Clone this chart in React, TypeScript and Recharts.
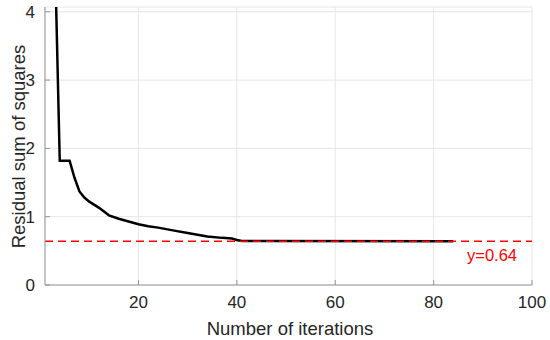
import {
  LineChart,
  Line,
  XAxis,
  YAxis,
  CartesianGrid,
  ReferenceLine,
  Label,
} from "recharts";

// residual sum of squares per iteration
const iterations = [1, 2, 3, 4, 6, 7, 8, 9, 10, 12, 14, 16, 18, 20, 22, 24, 27, 30, 34, 37, 39, 40, 41, 84];
const rss = [12, 8.5, 4.9, 1.82, 1.82, 1.57, 1.37, 1.28, 1.22, 1.13, 1.02, 0.97, 0.93, 0.89, 0.86, 0.84, 0.8, 0.76, 0.71, 0.69, 0.68, 0.66, 0.645, 0.64];

const xTicks = [20, 40, 60, 80, 100];
const yTicks = [0, 1, 2, 3, 4];
const xRange = [1, 100];
const threshold = 0.64;

const data = iterations.map((it, i) => ({ it, rss: rss[i] }));
// dashed y=0.64 line across the whole x range, drawn as a series so it sits on top
const thresholdData = xRange.map((it) => ({ it, thr: threshold }));

const FONT = '"Liberation Sans", Arial, sans-serif';
const AXIS = "#969696";
const TEXT = "#262626";
const RED = "#ff0000";

export default function App() {
  return (
    <div style={{ width: 550, height: 340, background: "#fff" }}>
      <style>{"body{margin:0}"}</style>
      <LineChart
        width={550}
        height={340}
        data={data}
        margin={{ top: 7, right: 18, bottom: 0, left: 0 }}
        style={{ fontFamily: FONT }}
      >
        <CartesianGrid stroke="#e6e6e6" strokeWidth={1} />
        <XAxis
          dataKey="it"
          type="number"
          domain={xRange}
          ticks={xTicks}
          height={55}
          stroke={AXIS}
          tickSize={-5}
          tickMargin={16}
          tick={{ fill: TEXT, fontSize: 17 }}
        >
          <Label
            content={({ viewBox }: any) => (
              <text
                x={viewBox.x + viewBox.width / 2 + 1.5}
                y={viewBox.y + 50}
                textAnchor="middle"
                fill={TEXT}
                fontSize={18.5}
              >
                Number of iterations
              </text>
            )}
          />
        </XAxis>
        <XAxis
          xAxisId="top"
          orientation="top"
          dataKey="it"
          type="number"
          domain={xRange}
          ticks={xTicks}
          height={0}
          stroke={AXIS}
          tickSize={-5}
          tickFormatter={() => ""}
        />
        <YAxis
          type="number"
          domain={[0, 4.07]}
          allowDataOverflow
          ticks={yTicks}
          width={45}
          stroke={AXIS}
          tickSize={-5}
          tickMargin={15}
          tick={{ fill: TEXT, fontSize: 17 }}
        >
          <Label
            content={({ viewBox }: any) => {
              const cx = viewBox.x + 25;
              const cy = viewBox.y + viewBox.height / 2 + 0.5;
              return (
                <text
                  x={cx}
                  y={cy}
                  transform={`rotate(-90 ${cx} ${cy})`}
                  textAnchor="middle"
                  fill={TEXT}
                  fontSize={18.5}
                >
                  Residual sum of squares
                </text>
              );
            }}
          />
        </YAxis>
        <YAxis
          yAxisId="right"
          orientation="right"
          type="number"
          domain={[0, 4.07]}
          ticks={yTicks}
          width={0}
          stroke={AXIS}
          tickSize={-5}
          tickFormatter={() => ""}
        />
        <ReferenceLine
          y={threshold}
          stroke="none"
          label={({ viewBox }: any) => (
            <text
              x={viewBox.x + viewBox.width - 15}
              y={viewBox.y + 20}
              textAnchor="end"
              fill={RED}
              fontSize={16.5}
              fontFamily={FONT}
            >
              {`y=${threshold}`}
            </text>
          )}
        />
        <Line
          type="linear"
          dataKey="rss"
          stroke="#000"
          strokeWidth={2.5}
          dot={false}
          activeDot={false}
          isAnimationActive={false}
        />
        <Line
          data={thresholdData}
          type="linear"
          dataKey="thr"
          stroke={RED}
          strokeWidth={1.5}
          strokeDasharray="8 5"
          dot={false}
          activeDot={false}
          isAnimationActive={false}
        />
      </LineChart>
    </div>
  );
}
